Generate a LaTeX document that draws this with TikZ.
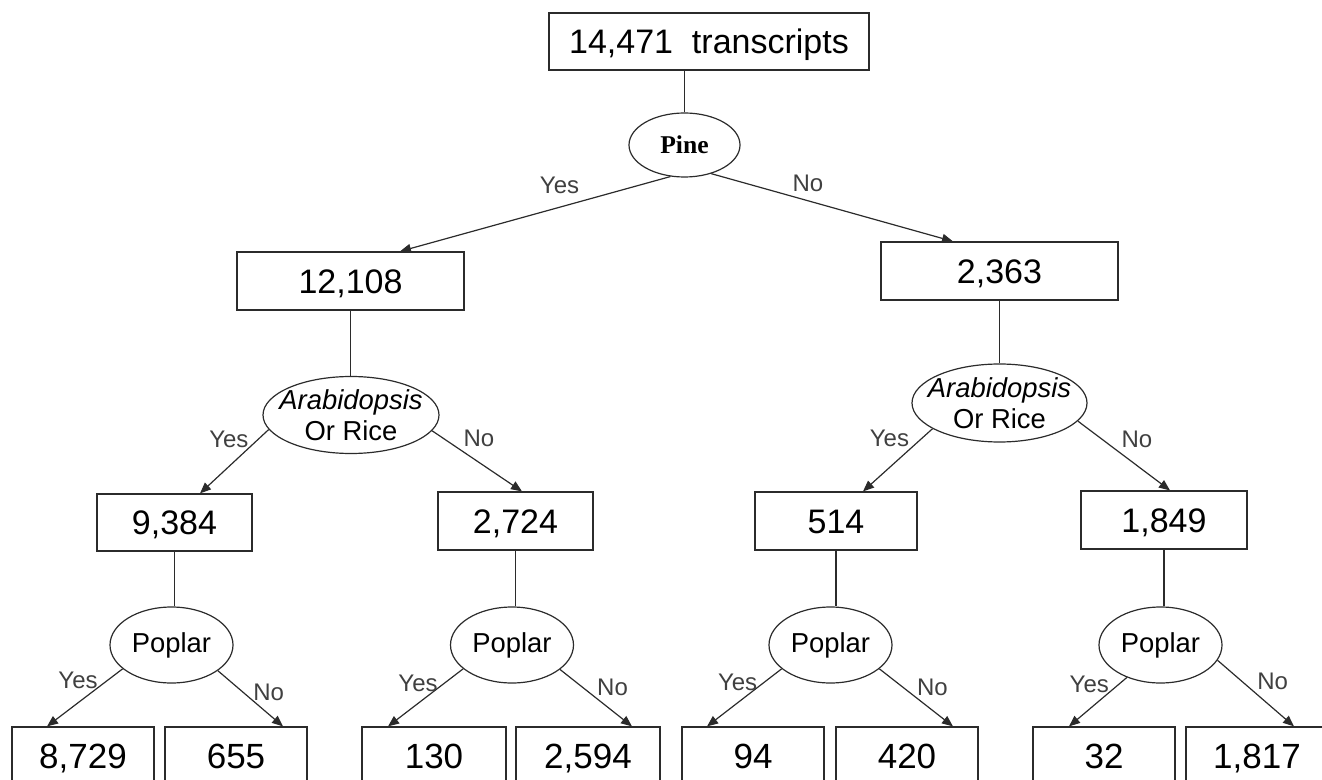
\documentclass[tikz,border=0pt]{standalone}
\usepackage{fontspec}
\setmainfont{Liberation Sans}
\newfontfamily\pinefont{Liberation Serif}
\usepackage{tikz}
\usetikzlibrary{arrows.meta,shapes.geometric,calc}
\definecolor{LineGray}{HTML}{2B2B2B}
\definecolor{LabelGray}{HTML}{404040}

\begin{document}
\begin{tikzpicture}[
    x=0.5pt, y=-0.5pt,
    countbox/.style={rectangle, draw=LineGray, line width=0.6pt, inner sep=0pt, font=\fontsize{17}{20}\selectfont, text height=12.2pt, text depth=0pt},
    leafbox/.style={countbox, minimum width=71pt, minimum height=29pt, font=\fontsize{17.5}{20}\selectfont, text height=12.5pt},
    testnode/.style={ellipse, draw=LineGray, line width=0.6pt, inner sep=-20pt, font=\fontsize{13.7}{15.3}\selectfont, align=center},
    poplar/.style={testnode, minimum width=61.5pt, minimum height=38pt},
    link/.style={line width=0.6pt, LineGray},
    arrow/.style={-{Triangle[length=5.5pt,width=4.5pt]}, line width=0.6pt, LineGray},
    ans/.style={font=\fontsize{12}{14}\selectfont, text=LabelGray, inner sep=0pt}
  ]
    \useasboundingbox (0,0) rectangle (1322,780);

    % Root and pine split
    \node[countbox, minimum width=160pt, minimum height=28.5pt] (root) at (709,41.5) {14,471~~transcripts};
    \node[testnode, font=\pinefont\bfseries\fontsize{12.8}{14}\selectfont, minimum width=55.5pt, minimum height=32pt] (pine) at (684.5,145) {Pine};

    \node[countbox, minimum width=113.5pt, minimum height=29pt] (n12108) at (350.5,281) {12,108};
    \node[countbox, minimum width=118.5pt, minimum height=29pt] (n2363) at (999.5,271) {2,363};

    % Arabidopsis or rice splits
    \node[testnode, minimum width=88pt, minimum height=38.5pt] (arabL) at (351,415) {\textit{Arabidopsis}\\Or Rice};
    \node[testnode, minimum width=87.5pt, minimum height=39pt] (arabR) at (999.5,403) {\textit{Arabidopsis}\\Or Rice};

    \node[countbox, minimum width=77.5pt, minimum height=28.5pt] (n9384) at (174.5,522.5) {9,384};
    \node[countbox, minimum width=77.5pt, minimum height=29pt] (n2724) at (515.5,521) {2,724};
    \node[countbox, minimum width=81pt, minimum height=29pt] (n514) at (836,521) {514};
    \node[countbox, minimum width=83pt, minimum height=29pt] (n1849) at (1164,520) {1,849};

    % Poplar splits
    \node[poplar] (popA) at (171.5,645) {Poplar};
    \node[poplar] (popB) at (512,645) {Poplar};
    \node[poplar] (popC) at (830.5,645) {Poplar};
    \node[poplar] (popD) at (1160.5,645) {Poplar};

    \node[leafbox] (n8729) at (83,756) {8,729};
    \node[leafbox] (n655) at (236,756) {655};
    \node[leafbox, minimum width=72pt] (n130) at (434,756) {130};
    \node[leafbox, minimum width=72pt] (n2594) at (588,756) {2,594};
    \node[leafbox] (n94) at (753,756) {94};
    \node[leafbox] (n420) at (907,756) {420};
    \node[leafbox] (n32) at (1104,756) {32};
    \node[leafbox] (n1817) at (1257,756) {1,817};

    % Stems
    \draw[link] (pine.north) -- (pine.north |- root.south);
    \draw[link] (n12108.south) -- (n12108.south |- arabL.north);
    \draw[link] (n2363.south) -- (n2363.south |- arabR.north);
    \draw[link] (n9384.south) -- (n9384.south |- popA.north);
    \draw[link] (n2724.south) -- (n2724.south |- popB.north);
    \draw[link] (n514.south) -- (n514.south |- popC.north);
    \draw[link] (n1849.south) -- (n1849.south |- popD.north);

    % Yes / No arrows
    \draw[arrow] (pine.246) -- node[ans, pos=.41, above=6.5pt] {Yes} ($(n12108.north)+(49.5,0)$);
    \draw[arrow] (pine.313) -- node[ans, pos=.40, above=4pt] {No} ($(n2363.north)+(-46.5,0)$);

    \draw[arrow] (arabL.190) -- node[ans, pos=.58, above=9pt] {Yes} ($(n9384.north)+(25.5,0)$);
    \draw[arrow] (arabL.349) -- node[ans, pos=.52, above=7.5pt] {No} ($(n2724.north)+(6.5,0)$);
    \draw[arrow] (arabR.201) -- node[ans, pos=.62, above=10.3pt] {Yes} ($(n514.north)+(27,0)$);
    \draw[arrow] (arabR.347) -- node[ans, pos=.64, above=8.5pt] {No} ($(n1849.north)+(6,0)$);

    \draw[arrow] (popA.206) -- node[ans, pos=.59, above=6.5pt] {Yes} ($(n8729.north)+(-36,0)$);
    \draw[arrow] (popA.331) -- node[ans, pos=.78, above=6.5pt] {No} ($(n655.north)+(47,0)$);
    \draw[arrow] (popB.206) -- node[ans, pos=.6, above=5.75pt] {Yes} ($(n130.north)+(-46,0)$);
    \draw[arrow] (popB.333) -- node[ans, pos=.73, above=7.3pt] {No} ($(n2594.north)+(44,0)$);
    \draw[arrow] (popC.206) -- node[ans, pos=.59, above=5.5pt] {Yes} ($(n94.north)+(-46,0)$);
    \draw[arrow] (popC.334) -- node[ans, pos=.72, above=7pt] {No} ($(n420.north)+(46,0)$);
    \draw[arrow] (popD.224) -- node[ans, pos=.65, above=8pt] {Yes} ($(n32.north)+(-35,0)$);
    \draw[arrow] (popD.345) -- node[ans, pos=.72, above=8.8pt] {No} ($(n1817.north)+(37,0)$);
  \end{tikzpicture}
\end{document}
